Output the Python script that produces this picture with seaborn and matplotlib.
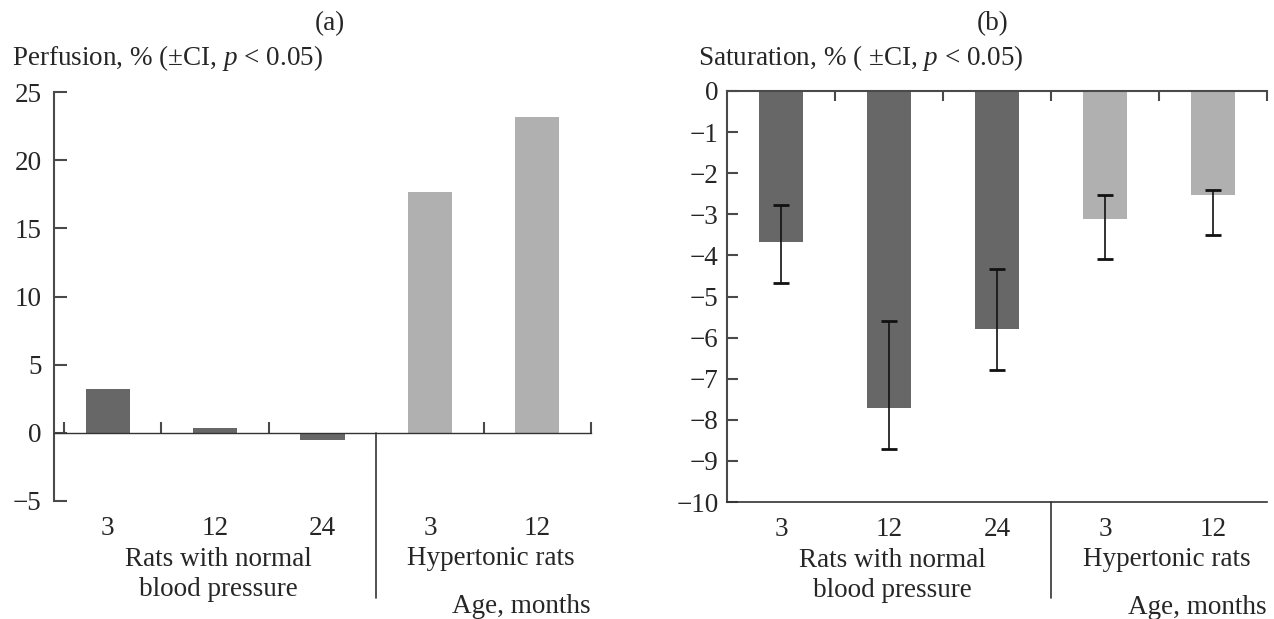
import numpy as np
import pandas as pd
import matplotlib
matplotlib.use('Agg')
import matplotlib.pyplot as plt
import seaborn as sns

# ── DATA ─────────────────────────────────────────────────────
bar_keys    = ['N3', 'N12', 'N24', 'H3', 'H12']
age_labels  = ['3', '12', '24', '3', '12']
groups      = ['normal', 'normal', 'normal', 'hyper', 'hyper']
perfusion   = [3.2, 0.35, -0.5, 17.7, 23.2]
saturation  = [-3.68, -7.71, -5.80, -3.12, -2.54]
sat_ci_low  = [-4.68, -8.71, -6.80, -4.09, -3.51]
sat_ci_high = [-2.78, -5.59, -4.32, -2.54, -2.41]
perf_ticks  = [-5, 0, 5, 10, 15, 20, 25]
sat_ticks   = list(range(-10, 1))
group_names = ['Rats with normal\nblood pressure', 'Hypertonic rats']
group_pos   = [1.03, 3.57]

palette = {'normal': '#676767', 'hyper': '#b0b0b0'}
AXC = '#4a4a4a'
FS = 19.5

df = pd.DataFrame({'bar': bar_keys, 'group': groups,
                   'perf': perfusion, 'sat': saturation})

# ── STYLE ────────────────────────────────────────────────────
sns.set_style('ticks')
plt.rcParams['font.family'] = ['Liberation Serif', 'DejaVu Serif']
plt.rcParams['mathtext.fontset'] = 'custom'
plt.rcParams['mathtext.rm'] = 'Liberation Serif'
plt.rcParams['mathtext.it'] = 'Liberation Serif:italic'
plt.rcParams['font.size'] = FS

W, H = 1274, 619
fig = plt.figure(figsize=(W / 100, H / 100), dpi=100)


def px_axes(x0, x1, y0, y1):
    return fig.add_axes([x0 / W, 1 - y1 / H, (x1 - x0) / W, (y1 - y0) / H])


ax1 = px_axes(54, 591, 92, 501)
ax2 = px_axes(727, 1267, 91, 502)

# ── (a) perfusion ────────────────────────────────────────────
sns.barplot(data=df, x='bar', y='perf', hue='group', palette=palette,
            order=bar_keys, width=0.41, dodge=False, legend=False,
            saturation=1, linewidth=0, ax=ax1)
ax1.set_xlim(-0.5, 4.5)
ax1.set_ylim(-5, 25)
ax1.set_xlabel('')
ax1.set_ylabel('')
ax1.spines['bottom'].set_position(('data', 0))
ax1.spines['bottom'].set_color('#333333')
ax1.spines['bottom'].set_linewidth(1.0)
ax1.spines['left'].set_color(AXC)
ax1.spines['left'].set_linewidth(1.5)
ax1.spines['top'].set_visible(False)
ax1.spines['right'].set_visible(False)
ax1.set_xticks([-0.41, 0.5, 1.5, 3.5, 4.5])
ax1.set_xticklabels([])
ax1.tick_params(axis='x', direction='in', length=8, width=1.5, color=AXC)
ax1.set_yticks(perf_ticks)
ax1.tick_params(axis='y', direction='in', length=9, width=1.5, color=AXC,
                pad=9, labelsize=FS)
ax1.axvline(2.5, ymin=-(598 - 501) / 409, ymax=5 / 30, clip_on=False,
            color='#333333', lw=1.2)

# ── (b) saturation ───────────────────────────────────────────
sns.barplot(data=df, x='bar', y='sat', hue='group', palette=palette,
            order=bar_keys, width=0.41, dodge=False, legend=False,
            saturation=1, linewidth=0, ax=ax2)
sat = np.array(saturation)
yerr = [sat - np.array(sat_ci_low), np.array(sat_ci_high) - sat]
ax2.errorbar(np.arange(len(sat)), sat, yerr=yerr, fmt='none',
             ecolor='#111111', elinewidth=1.2, capsize=6, capthick=2)
ax2.set_xlim(-0.5, 4.5)
ax2.set_ylim(-10, 0)
ax2.set_xlabel('')
ax2.set_ylabel('')
for s in ['left', 'top']:
    ax2.spines[s].set_color(AXC)
    ax2.spines[s].set_linewidth(1.5)
ax2.spines['bottom'].set_color('#333333')
ax2.spines['bottom'].set_linewidth(1.2)
ax2.spines['right'].set_visible(False)
ax2.xaxis.set_ticks_position('top')
ax2.set_xticks([0.5, 1.5, 2.5, 3.5, 4.5])
ax2.set_xticklabels([])
ax2.tick_params(axis='x', direction='in', length=7, width=1.5, color=AXC)
ax2.set_yticks(sat_ticks)
ax2.tick_params(axis='y', direction='in', length=8, width=1.5, color=AXC,
                pad=6, labelsize=FS)
ax2.axvline(2.5, ymin=-(598 - 502) / 411, ymax=0, clip_on=False,
            color='#333333', lw=1.2)

# ── category labels below each panel ─────────────────────────
# multi-line text with va='baseline' sits on its last line
for ax in (ax1, ax2):
    sec = ax.secondary_xaxis('bottom')
    sec.set_xticks(range(len(age_labels)), labels=age_labels)
    sec.tick_params(length=0, pad=11, labelsize=FS)
    sec.spines['bottom'].set_visible(False)
    for name, xp in zip(group_names, group_pos):
        ax.annotate(name, xy=(xp, 0), xycoords=('data', 'axes fraction'),
                    xytext=(0, -64 - 31 * name.count('\n')),
                    textcoords='offset pixels', ha='center', va='baseline',
                    fontsize=FS, linespacing=1.28)
    ax.annotate('Age, months', xy=(4.5, 0), xycoords=('data', 'axes fraction'),
                xytext=(0, -112), textcoords='offset pixels',
                ha='right', va='baseline', fontsize=FS)

# ── panel titles and y labels ────────────────────────────────
fig.text(330 / W, 1 - 30 / H, '(a)', ha='center', va='baseline', fontsize=FS)
fig.text(993 / W, 1 - 30 / H, '(b)', ha='center', va='baseline', fontsize=FS)
fig.text(12 / W, 1 - 65 / H, 'Perfusion, % (±CI, $p$ < 0.05)',
         ha='left', va='baseline', fontsize=FS)
fig.text(698 / W, 1 - 65 / H, 'Saturation, % ( ±CI, $p$ < 0.05)',
         ha='left', va='baseline', fontsize=FS)

plt.savefig('out.png', dpi=100)
